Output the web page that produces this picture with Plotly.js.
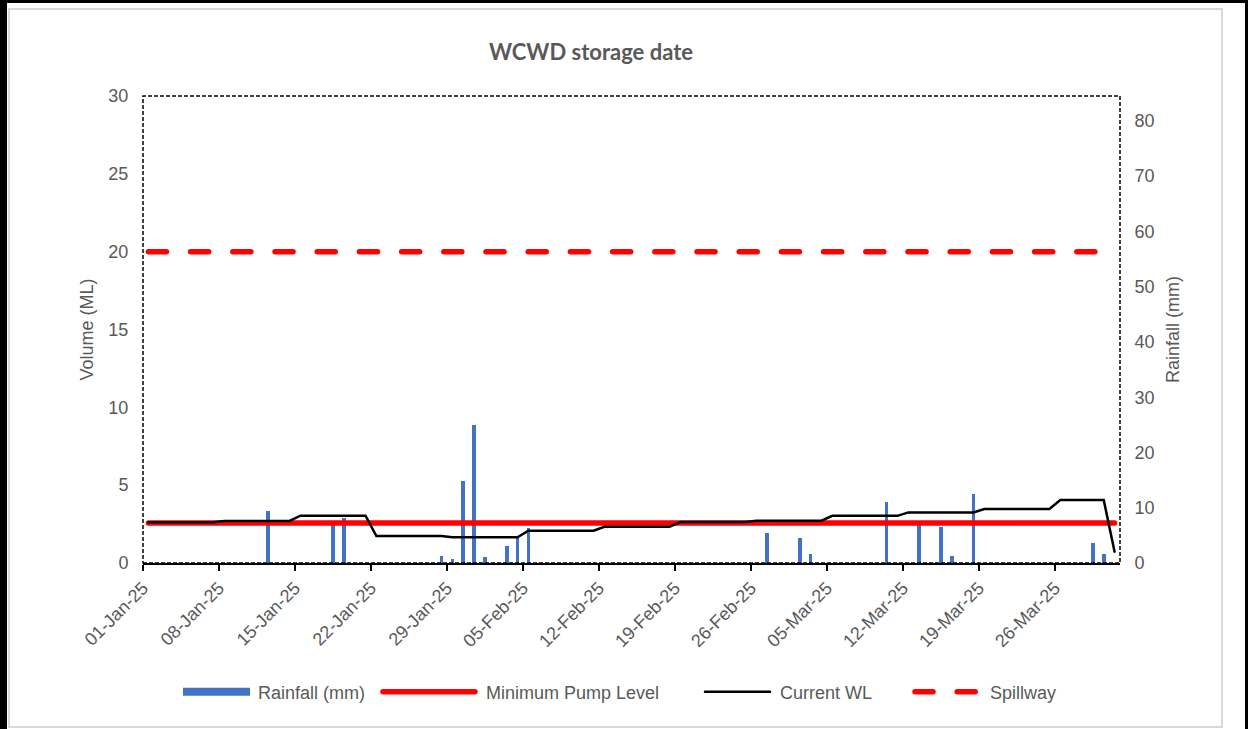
<!DOCTYPE html>
<html>
<head>
<meta charset="utf-8">
<script src="https://cdn.plot.ly/plotly-3.0.1.min.js"></script>
<style>
  html, body { margin: 0; padding: 0; background: #ffffff; }
  #frame { position: absolute; left: 0; top: 0; width: 1248px; height: 729px; box-sizing: border-box;
           border-left: 7px solid #000; border-top: 3px solid #000; border-right: 3px solid #000; }
  #inner { position: absolute; left: 8px; top: 8px; width: 1215px; height: 720px; box-sizing: border-box;
           border: 2px solid #d9d9d9; }
  #chart { position: absolute; left: 0; top: 0; width: 1248px; height: 729px; }
  #chart .js-line { stroke-linecap: round; }
</style>
</head>
<body>
<div id="frame"></div>
<div id="inner"></div>
<div id="chart"></div>
<script>
// ---- data ----
const rainDates = ['2025-01-12','2025-01-18','2025-01-19','2025-01-28','2025-01-29','2025-01-30','2025-01-31',
                   '2025-02-01','2025-02-03','2025-02-04','2025-02-05','2025-02-27','2025-03-02','2025-03-03',
                   '2025-03-10','2025-03-13','2025-03-15','2025-03-16','2025-03-18','2025-03-29','2025-03-30'];
const rainMM = [9.4, 7.6, 8.2, 1.3, 0.7, 14.8, 25.0,
                1.0, 3.0, 4.5, 6.3, 5.5, 4.5, 1.7,
                11.0, 7.4, 6.5, 1.3, 12.4, 3.6, 1.6];

const wlDates = ['2025-01-01','2025-01-07','2025-01-08','2025-01-14','2025-01-15','2025-01-21','2025-01-22',
                 '2025-01-28','2025-01-29','2025-02-04','2025-02-05','2025-02-11','2025-02-12','2025-02-18',
                 '2025-02-19','2025-02-25','2025-02-26','2025-03-04','2025-03-05','2025-03-11','2025-03-12',
                 '2025-03-18','2025-03-19','2025-03-25','2025-03-26','2025-03-30','2025-03-31'];
const wlML = [2.62, 2.62, 2.70, 2.70, 3.04, 3.04, 1.73,
              1.73, 1.65, 1.65, 2.07, 2.07, 2.33, 2.33,
              2.63, 2.63, 2.72, 2.72, 3.03, 3.03, 3.25,
              3.25, 3.47, 3.47, 4.05, 4.05, 0.73];

const periodDates = ['2025-01-01', '2025-03-31'];
const minPumpLevel = [2.57, 2.57];
const spillwayLevel = [20, 20];

const xRange = ['2025-01-01', '2025-04-01'];
const leftRange = [0, 30];
const rightRange = [0, 84.5];

// ---- styling ----
const DAY = 86400000;
const gray = '#595959';
const fontMain = 'Liberation Sans, Arial, sans-serif';

const traces = [
  { type: 'bar', name: 'Rainfall (mm)', x: rainDates, y: rainMM, yaxis: 'y',
    xperiod: DAY, xperiodalignment: 'middle', width: 0.34 * DAY,
    marker: { color: '#4472C4' } },
  { type: 'scatter', mode: 'lines', name: 'Minimum Pump Level', x: periodDates, y: minPumpLevel, yaxis: 'y2',
    xperiod: DAY, xperiodalignment: 'middle',
    line: { color: '#FF0000', width: 5.5 } },
  { type: 'scatter', mode: 'lines', name: 'Current WL', x: wlDates, y: wlML, yaxis: 'y2',
    xperiod: DAY, xperiodalignment: 'middle',
    line: { color: '#000000', width: 2.5 } },
  { type: 'scatter', mode: 'lines', name: 'Spillway', x: periodDates, y: spillwayLevel, yaxis: 'y2',
    xperiod: DAY, xperiodalignment: 'middle',
    line: { color: '#FF0000', width: 5.5, dash: '18px,24.2px' } }
];

const layout = {
  width: 1248, height: 729,
  paper_bgcolor: 'rgba(0,0,0,0)', plot_bgcolor: 'rgba(0,0,0,0)',
  margin: { l: 143, r: 128, t: 96, b: 166, autoexpand: false },
  font: { family: fontMain, size: 18, color: gray },
  title: { text: '<b>WCWD storage date</b>', font: { family: 'Lato, Carlito, sans-serif', size: 22, color: gray },
           x: 591 / 1248, xref: 'container', xanchor: 'center', y: 1 - 52 / 729, yref: 'container', yanchor: 'middle' },
  showlegend: true,
  legend: { orientation: 'h', x: 0.497, xref: 'container', xanchor: 'center', y: 37 / 729, yref: 'container', yanchor: 'middle',
            font: { size: 18, color: gray } },
  bargap: 0,
  xaxis: { type: 'date', range: xRange, tick0: '2025-01-01', dtick: 7 * DAY, tickformat: '%d-%b-%y',
           tickangle: -45, ticks: 'outside', ticklen: 6, tickwidth: 1.5, tickcolor: '#000', automargin: false,
           showline: true, linecolor: '#000', linewidth: 1.5, showgrid: false, zeroline: false,
           tickfont: { size: 18, color: gray } },
  yaxis: { side: 'right', range: rightRange, dtick: 10, showgrid: false, zeroline: false, showline: false,
           ticks: 'outside', ticklen: 10, tickcolor: 'rgba(0,0,0,0)', automargin: false,
           title: { text: 'Rainfall (mm)', standoff: 12, font: { size: 18, color: gray } },
           tickfont: { size: 18, color: gray } },
  yaxis2: { side: 'left', overlaying: 'y', range: leftRange, dtick: 5, showgrid: false, zeroline: false, showline: false,
            ticks: 'outside', ticklen: 10, tickcolor: 'rgba(0,0,0,0)', automargin: false,
            title: { text: 'Volume (ML)', standoff: 10, font: { size: 18, color: gray } },
            tickfont: { size: 18, color: gray } },
  shapes: [
    { type: 'rect', xref: 'paper', yref: 'paper', x0: 0, x1: 1, y0: 0, y1: 1,
      line: { color: '#000', width: 1.5, dash: '4px,2px' }, layer: 'above' }
  ]
};

// legend entry geometry (symbol start, symbol length, text start) in page pixels
const legendSymStart = [183, 383, 705, 915];
const legendSymLen = [67, 92, 65, 64];
const legendTextStart = [258, 486, 780, 990];

Plotly.newPlot('chart', traces, layout, { displayModeBar: false, staticPlot: true }).then(function (gd) {
  try {
    gd.querySelectorAll('.legend [clip-path]').forEach(function (el) { el.removeAttribute('clip-path'); });
    const items = gd.querySelectorAll('.legend .traces');
    items.forEach(function (g, i) {
      if (i >= legendSymStart.length) return;
      const m = /translate\(\s*([-\d.]+)[ ,]+([-\d.]+)\s*\)/.exec(g.getAttribute('transform') || '');
      const oldX = m ? parseFloat(m[1]) : 0, oldY = m ? parseFloat(m[2]) : 0;
      const absX = g.getCTM().e;
      const newX = oldX + (legendSymStart[i] - absX);
      g.setAttribute('transform', 'translate(' + newX + ',' + oldY + ')');
      const len = legendSymLen[i];
      g.querySelectorAll('.legendlines path').forEach(function (p) { p.setAttribute('d', 'M0,0h' + len); p.style.strokeLinecap = 'round'; });
      g.querySelectorAll('.legendsymbols path').forEach(function (p) {
        p.setAttribute('transform', 'translate(' + (len / 2) + ',0)');
        p.setAttribute('d', 'M' + (len / 2) + ',4H' + (-len / 2) + 'V-4H' + (len / 2) + 'Z');
      });
      const t = g.querySelector('text.legendtext');
      if (t) t.setAttribute('x', legendTextStart[i] - legendSymStart[i]);
    });
  } catch (e) { console.log(e); }
});
</script>
</body>
</html>
